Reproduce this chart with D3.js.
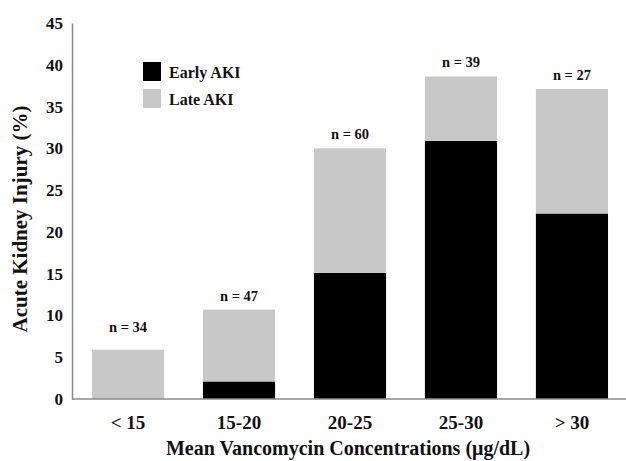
<!DOCTYPE html>
<html>
<head>
<meta charset="utf-8">
<script src="https://cdn.jsdelivr.net/npm/d3@7/dist/d3.min.js"></script>
<style>
  html, body { margin: 0; padding: 0; background: #fff; }
  svg { display: block; }
  text { font-family: "Liberation Serif", "Times New Roman", serif; font-weight: bold; fill: #111; }
</style>
</head>
<body>
<svg id="chart" width="626" height="461"></svg>
<script>
const categories = ["< 15", "15-20", "20-25", "25-30", "> 30"];
const earlyAKI = [0, 2.1, 15.1, 30.9, 22.2];
const lateAKI = [5.9, 8.6, 14.9, 7.7, 14.9];
const nLabels = ["n = 34", "n = 47", "n = 60", "n = 39", "n = 27"];
const yTicks = [0, 5, 10, 15, 20, 25, 30, 35, 40, 45];
const seriesNames = ["Early AKI", "Late AKI"];
const seriesColors = ["#000000", "#c8c8c8"];

const svg = d3.select("#chart");
const x0 = 72, x1 = 628, yBottom = 399, yTop = 23;

const x = d3.scaleBand().domain(categories).range([x0, x1])
  .paddingInner(0.35).paddingOuter(0.18);
const y = d3.scaleLinear().domain([0, 45]).range([yBottom, yTop]);

const rows = categories.map((c, i) => ({ cat: c, early: earlyAKI[i], late: lateAKI[i] }));
const stack = d3.stack().keys(["early", "late"])(rows);

svg.append("g").selectAll("g").data(stack).join("g")
  .attr("fill", (d, i) => seriesColors[i])
  .selectAll("rect").data(d => d).join("rect")
  .attr("x", d => x(d.data.cat))
  .attr("width", x.bandwidth())
  .attr("y", d => y(d[1]))
  .attr("height", d => y(d[0]) - y(d[1]));

// n labels
svg.append("g").selectAll("text").data(rows).join("text")
  .attr("x", d => x(d.cat) + x.bandwidth() / 2)
  .attr("y", d => y(Math.max(d.early + d.late, 7)) - 9)
  .attr("text-anchor", "middle")
  .style("font-size", "14.5px")
  .text((d, i) => nLabels[i]);

// Y axis
const yAxis = svg.append("g").attr("transform", `translate(${x0},0)`)
  .call(d3.axisLeft(y).tickValues(yTicks).tickSize(0).tickPadding(9));
yAxis.select(".domain").attr("stroke", "#8a8a8a").attr("stroke-width", 1.5);
yAxis.selectAll("text").style("font-size", "17px").attr("fill", "#111");

// X axis
const xAxis = svg.append("g").attr("transform", `translate(0,${yBottom})`)
  .call(d3.axisBottom(x).tickSize(0).tickPadding(17));
xAxis.select(".domain").attr("stroke", "#8a8a8a").attr("stroke-width", 1.5)
  .attr("d", `M${x0},0H626`);
xAxis.selectAll("text").style("font-size", "19px").attr("fill", "#111");

// Axis titles
svg.append("text")
  .attr("x", 348).attr("y", 455)
  .attr("text-anchor", "middle")
  .style("font-size", "20px")
  .text("Mean Vancomycin Concentrations (μg/dL)");

svg.append("text")
  .attr("transform", `translate(27,219) rotate(-90)`)
  .attr("text-anchor", "middle")
  .style("font-size", "21px")
  .text("Acute Kidney Injury (%)");

// Legend
const legend = svg.append("g").attr("transform", "translate(143,62)");
seriesNames.forEach((name, i) => {
  const g = legend.append("g").attr("transform", `translate(0,${i * 27})`);
  g.append("rect").attr("width", 18).attr("height", 19).attr("fill", seriesColors[i]);
  g.append("text").attr("x", 26).attr("y", 16).style("font-size", "16px").text(name);
});
</script>
</body>
</html>
